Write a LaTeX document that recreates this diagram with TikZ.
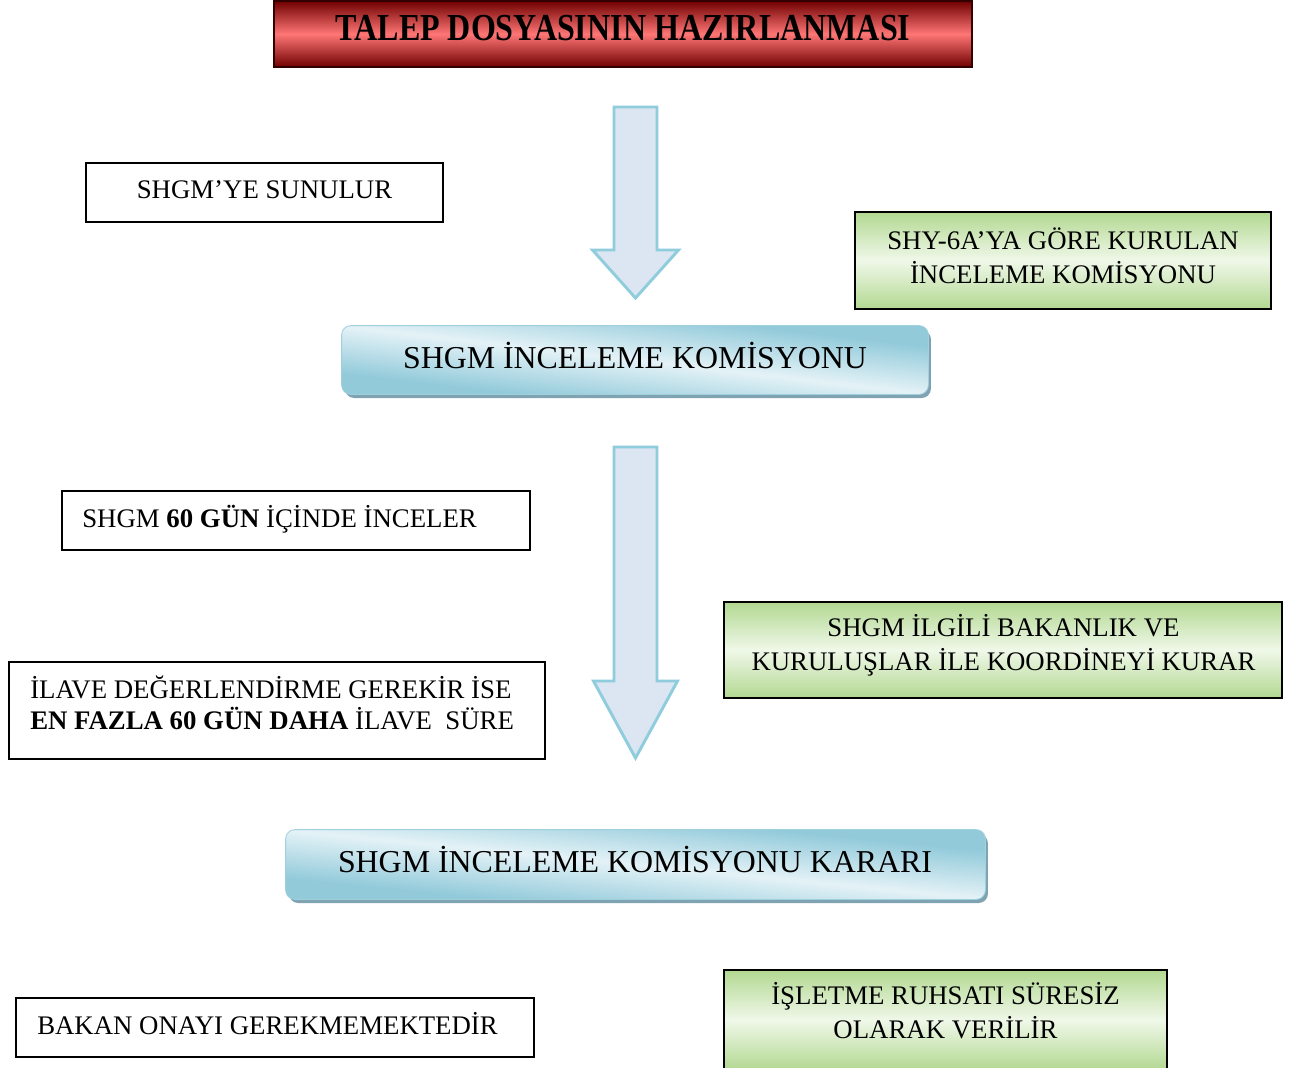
\documentclass[tikz,border=0pt]{standalone}
\usepackage{fontspec}
\setmainfont{Liberation Serif}
\usepackage{graphicx}
\usetikzlibrary{calc,shadows}
\definecolor{afill}{RGB}{220,230,242}
\definecolor{aline}{RGB}{143,204,220}
\definecolor{tdark}{RGB}{112,0,0}
\definecolor{tlight}{RGB}{255,118,118}
\definecolor{gdark}{RGB}{178,216,145}
\definecolor{glight}{RGB}{240,248,233}
\definecolor{bdark}{RGB}{146,202,218}
\definecolor{blight}{RGB}{228,242,247}
\definecolor{bshadow}{RGB}{128,163,178}
\definecolor{bedge}{RGB}{160,208,222}
\newcommand\ntxt{\fontsize{20.1pt}{25.9pt}\selectfont}
\newcommand\btxt{\fontsize{23.9pt}{28pt}\selectfont}
\begin{document}
\begin{tikzpicture}[x=0.75pt,y=-0.75pt,
  plainbox/.style={draw=black,line width=1.4pt,fill=white,inner sep=0pt},
  greenbox/.style={draw=black,line width=1.4pt,inner sep=0pt,top color=gdark,bottom color=gdark,middle color=glight},
  titlebox/.style={draw=black!80!red,line width=1.4pt,inner sep=0pt,top color=tdark,bottom color=tdark,middle color=tlight},
  bluebox/.style={draw=bedge,line width=0.6pt,rounded corners=7pt,inner sep=0pt,fill=white,drop shadow={shadow xshift=2.2pt,shadow yshift=-3pt,fill=bshadow,opacity=1}},
  blueshade/.style={top color=bdark,bottom color=bdark,middle color=blight,shading angle=-45},
  txt/.style={inner sep=0pt,font=\ntxt},
  btext/.style={inner sep=0pt,font=\btxt},
  blockarrow/.style={draw=aline,fill=afill,line width=2.2pt,line join=miter}
]
\useasboundingbox (0,0) rectangle (1298,1067);
\clip (0,0) rectangle (1298,1067);

% boxes
\node[titlebox,minimum width=523.5pt,minimum height=49.5pt] (title) at (623,34) {};
\node[plainbox,minimum width=267.75pt,minimum height=44.25pt] (sunulur) at (264.5,192.5) {};
\node[greenbox,minimum width=312pt,minimum height=72.75pt] (green1) at (1063,260.5) {};
\node[bluebox,minimum width=439.5pt,minimum height=51pt] (blue1) at (635,360) {};
\begin{scope}
  \clip[rounded corners=7pt] (blue1.south west) rectangle (blue1.north east);
  \begin{scope}[transform canvas={shift={(635,360)},xscale=293,yscale=34}]
    \shade[blueshade] (-1,-1) rectangle (1,1);
  \end{scope}
\end{scope}
\draw[bedge,line width=0.6pt,rounded corners=7pt] (blue1.south west) rectangle (blue1.north east);
\node[plainbox,minimum width=351pt,minimum height=44.25pt] (inceler) at (296,520.5) {};
\node[greenbox,minimum width=418.5pt,minimum height=72pt] (green2) at (1003,650) {};
\node[plainbox,minimum width=402pt,minimum height=72.75pt] (ilave) at (277,710.5) {};
\node[bluebox,minimum width=524.25pt,minimum height=51.75pt] (blue2) at (635.5,864.5) {};
\begin{scope}
  \clip[rounded corners=7pt] (blue2.south west) rectangle (blue2.north east);
  \begin{scope}[transform canvas={shift={(635.5,864.5)},xscale=349.5,yscale=34.5}]
    \shade[blueshade] (-1,-1) rectangle (1,1);
  \end{scope}
\end{scope}
\draw[bedge,line width=0.6pt,rounded corners=7pt] (blue2.south west) rectangle (blue2.north east);
\node[plainbox,minimum width=388.5pt,minimum height=44.25pt] (bakan) at (275,1027.5) {};
\node[greenbox,minimum width=332.25pt,minimum height=75pt] (green3) at (945.5,1020) {};

% texts
\node[inner sep=0pt,anchor=base] (titletxt) at (623,40) {\fontsize{28.6pt}{30pt}\selectfont\bfseries\scalebox{0.84}[1]{TALEP DOSYASININ HAZIRLANMASI}};
\node[txt,anchor=base] (sunulurtxt) at (264.5,198) {SHGM’YE SUNULUR};
\node[txt,anchor=base] (green1txt) at (1063,249) {\begin{tabular}[t]{@{}c@{}}SHY-6A’YA GÖRE KURULAN\\İNCELEME KOMİSYONU\end{tabular}};
\node[btext,anchor=base] (blue1txt) at (635,368) {SHGM İNCELEME KOMİSYONU};
\node[txt,anchor=base west] (incelertxt) at (82,527) {SHGM \textbf{60 GÜN} İÇİNDE İNCELER};
\node[txt,anchor=base] (green2txt) at (1003.5,636) {\begin{tabular}[t]{@{}c@{}}SHGM İLGİLİ BAKANLIK VE\\KURULUŞLAR İLE KOORDİNEYİ KURAR\end{tabular}};
\node[inner sep=0pt,font=\fontsize{20.1pt}{22.5pt}\selectfont,anchor=base west] (ilavetxt) at (30,698) {\begin{tabular}[t]{@{}l@{}}İLAVE DEĞERLENDİRME GEREKİR İSE\\\textbf{EN FAZLA 60 GÜN DAHA} İLAVE\ \ SÜRE\end{tabular}};
\node[btext,anchor=base] (blue2txt) at (635,872) {SHGM İNCELEME KOMİSYONU KARARI};
\node[txt,anchor=base west] (bakantxt) at (37,1034) {BAKAN ONAYI GEREKMEMEKTEDİR};
\node[txt,anchor=base] (green3txt) at (945.5,1004) {\begin{tabular}[t]{@{}c@{}}İŞLETME RUHSATI SÜRESİZ\\OLARAK VERİLİR\end{tabular}};

% block arrows
\coordinate (a1s) at (635.5,107);
\coordinate (a1t) at (635.5,298);
\draw[blockarrow] ($(a1s)+(-21.5,0)$) -- ($(a1s)+(21.5,0)$) -- ($(a1t)+(21.5,-48)$) -- ($(a1t)+(43,-48)$) -- (a1t) -- ($(a1t)+(-43,-48)$) -- ($(a1t)+(-21.5,-48)$) -- cycle;
\coordinate (a2s) at (635.5,447);
\coordinate (a2t) at (635.5,758);
\draw[blockarrow] ($(a2s)+(-21.5,0)$) -- ($(a2s)+(21.5,0)$) -- ($(a2t)+(21.5,-77)$) -- ($(a2t)+(42,-77)$) -- (a2t) -- ($(a2t)+(-42,-77)$) -- ($(a2t)+(-21.5,-77)$) -- cycle;
\end{tikzpicture}
\end{document}
